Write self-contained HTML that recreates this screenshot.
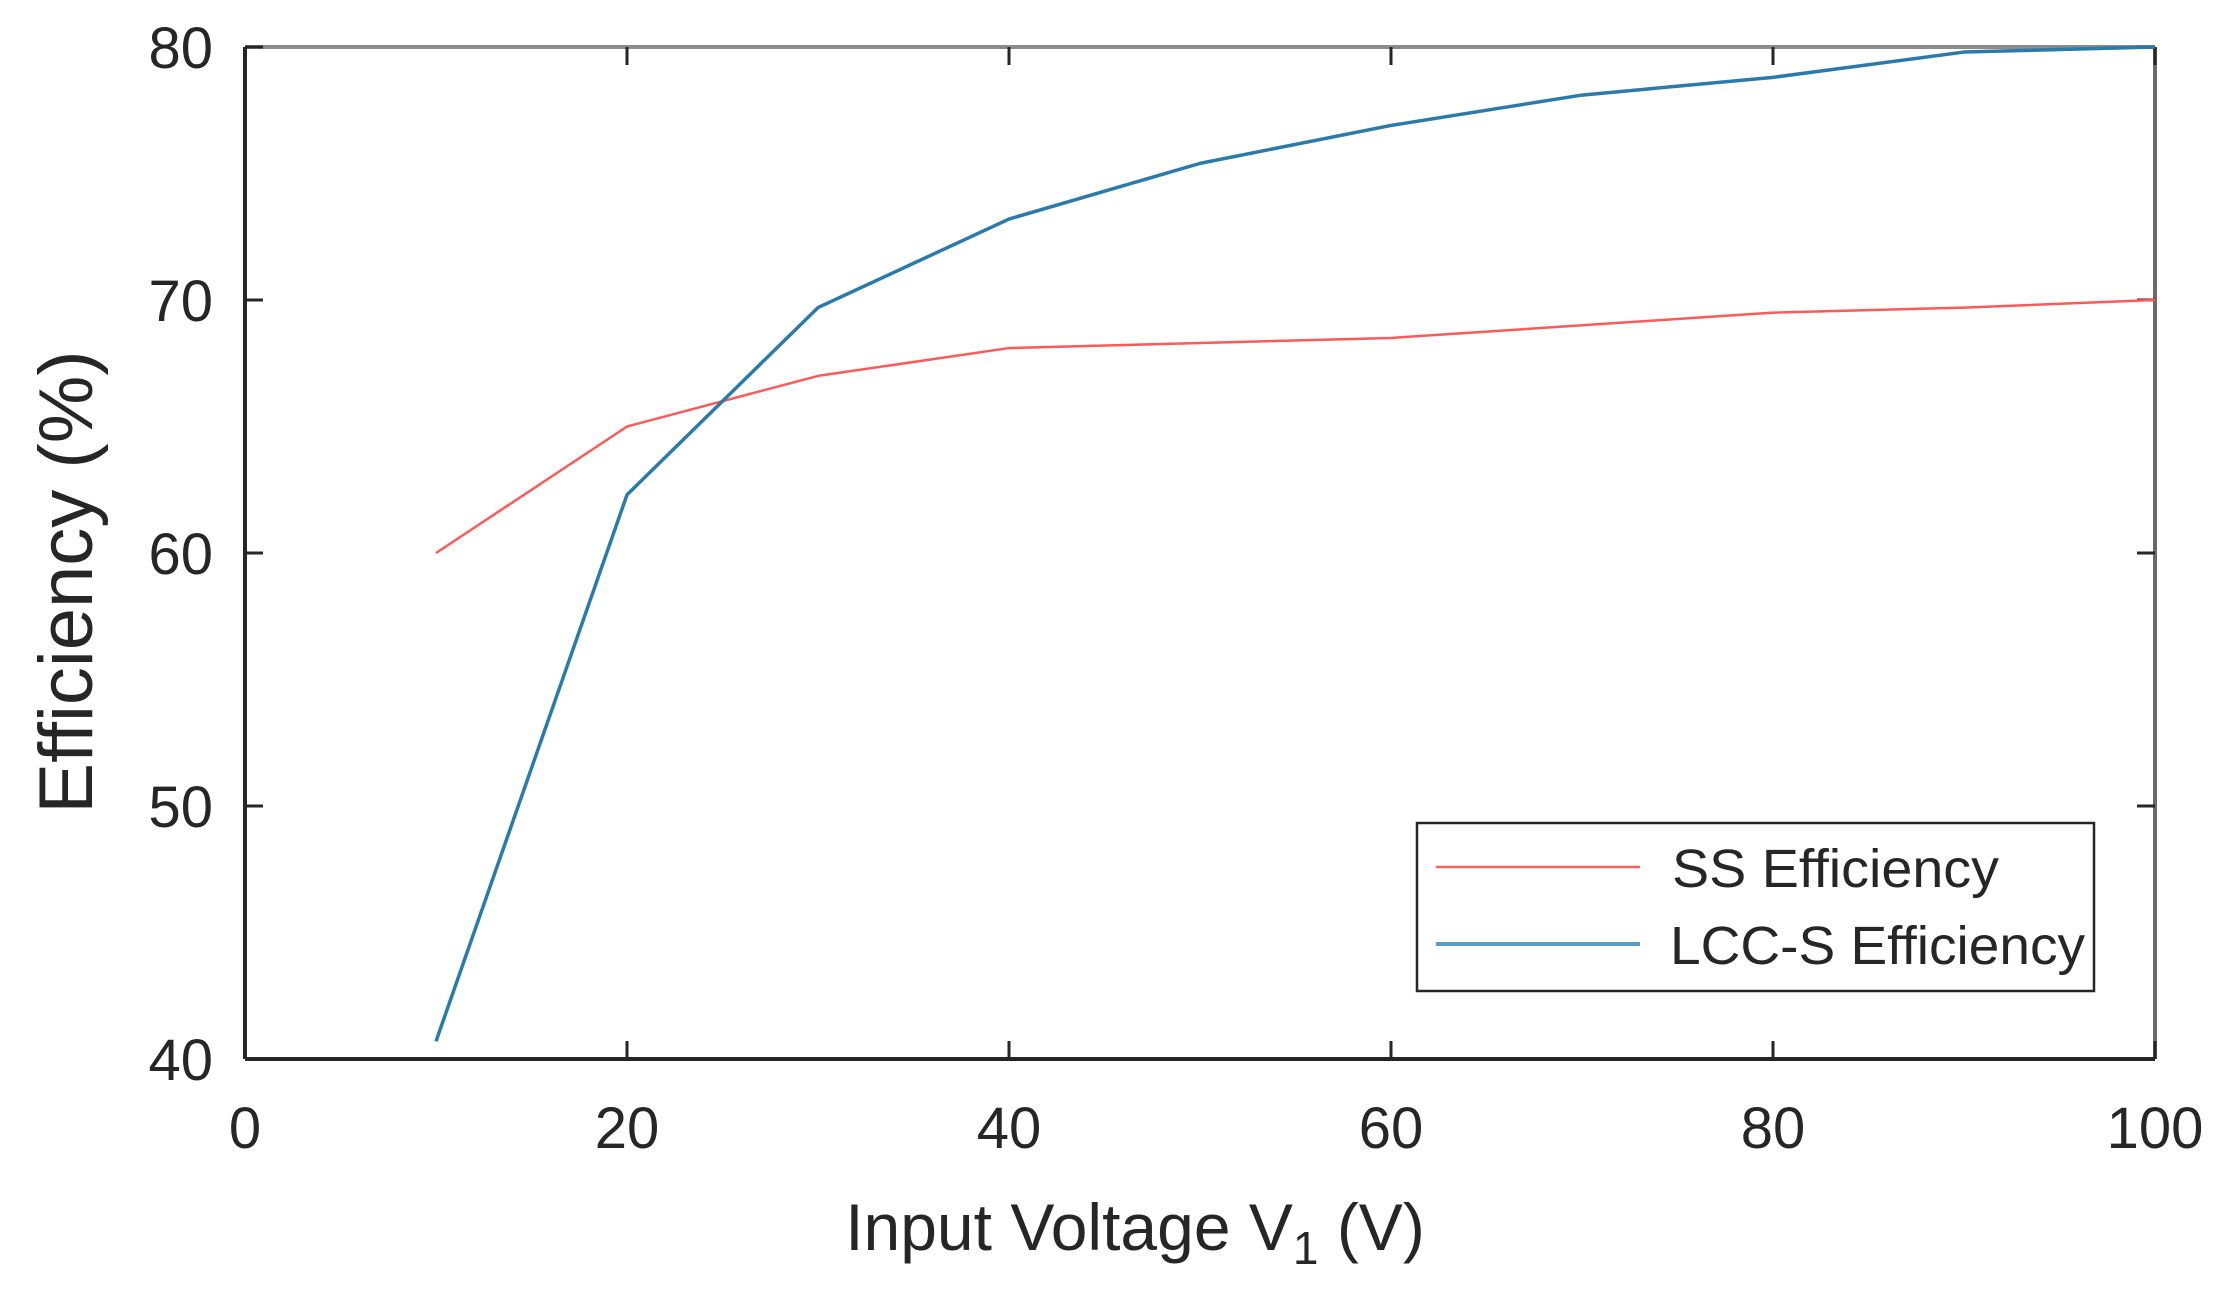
<!DOCTYPE html>
<html><head><meta charset="utf-8"><style>
html,body{margin:0;padding:0;background:#fff;}
svg{display:block;}
text{font-family:"Liberation Sans",Arial,sans-serif;fill:#262626;}
</style></head><body>
<svg id="chart" width="2223" height="1293" viewBox="0 0 2223 1293" xmlns="http://www.w3.org/2000/svg">
<g id="axes"></g>
<g id="series"></g>
<g id="legend">
  <rect x="1417" y="823" width="677" height="168" fill="#fff" stroke="#262626" stroke-width="2.5"/>
  <line x1="1436" y1="867" x2="1640" y2="867" stroke="#ff6060" stroke-width="2.5"/>
  <text x="1672" y="887" font-size="54" textLength="327" lengthAdjust="spacingAndGlyphs">SS Efficiency</text>
  <line x1="1436" y1="944" x2="1640" y2="944" stroke="#5b9cc4" stroke-width="4"/>
  <text x="1670" y="964" font-size="54" textLength="415" lengthAdjust="spacingAndGlyphs">LCC-S Efficiency</text>
</g>
<text x="1135" y="1250" font-size="66" text-anchor="middle">Input Voltage V<tspan font-size="46" dy="14">1</tspan><tspan dy="-14"> (V)</tspan></text>
<text x="0" y="0" font-size="76" text-anchor="middle" transform="translate(92,582) rotate(-90)">Efficiency (%)</text>
</svg>
<script>
const xValues = [10,20,30,40,50,60,70,80,90,100];
const ssEfficiency = [60,65,67,68.1,68.3,68.5,69,69.5,69.7,70];
const lccEfficiency = [40.7,62.3,69.7,73.2,75.4,76.9,78.1,78.8,79.8,80];
const xTicks = [0,20,40,60,80,100];
const yTicks = [40,50,60,70,80];

const L=245,R=2155,T=47,B=1059;
const xMin=0,xMax=100,yMin=40,yMax=80;
const NS='http://www.w3.org/2000/svg';
function sx(v){return L+(v-xMin)/(xMax-xMin)*(R-L);}
function sy(v){return B-(v-yMin)/(yMax-yMin)*(B-T);}
function mk(tag,attrs,parent){const e=document.createElementNS(NS,tag);for(const k in attrs)e.setAttribute(k,attrs[k]);parent.appendChild(e);return e;}
const axes=document.getElementById('axes');
const series=document.getElementById('series');

let e;
e=mk('line',{x1:L,y1:T,x2:R,y2:T,stroke:'#8a8a8a','stroke-width':4},axes);


e=mk('line',{x1:R,y1:T,x2:R,y2:B,stroke:'#6a6a6a','stroke-width':4},axes);


e=mk('line',{x1:L,y1:B,x2:R,y2:B,stroke:'#262626','stroke-width':4},axes);


e=mk('line',{x1:L,y1:T,x2:L,y2:B,stroke:'#262626','stroke-width':4},axes);



xTicks.forEach(v=>{
  const x=sx(v);
  let t=mk('line',{x1:x,y1:B,x2:x,y2:B-18,stroke:'#262626','stroke-width':3},axes);
  
  
  t=mk('line',{x1:x,y1:T,x2:x,y2:T+18,stroke:'#262626','stroke-width':3},axes);
  
  
  const lb=mk('text',{x:x,y:1148,'font-size':58,'text-anchor':'middle'},axes);
  lb.textContent=v;
  
  
});
yTicks.forEach(v=>{
  const y=sy(v);
  let t=mk('line',{x1:L,y1:y,x2:L+18,y2:y,stroke:'#262626','stroke-width':3},axes);
  
  
  t=mk('line',{x1:R,y1:y,x2:R-18,y2:y,stroke:'#262626','stroke-width':3},axes);
  
  
  const lb=mk('text',{x:213,y:y+21,'font-size':58,'text-anchor':'end'},axes);
  lb.textContent=v;
  
  
});

function pts(arr){return xValues.map((x,i)=>sx(x)+','+sy(arr[i])).join(' ');}
e=mk('polyline',{points:pts(ssEfficiency),fill:'none',stroke:'#ff5a5a','stroke-width':2.5,'stroke-linejoin':'round'},series);


e=mk('polyline',{points:pts(lccEfficiency),fill:'none',stroke:'#2a7aaa','stroke-width':3.5,'stroke-linejoin':'round'},series);


</script>
</body></html>
